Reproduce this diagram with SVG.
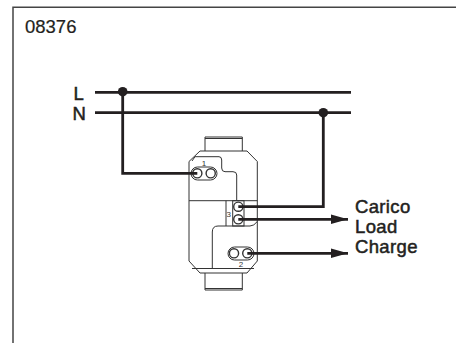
<svg xmlns="http://www.w3.org/2000/svg" width="456" height="343" viewBox="0 0 456 343">
<style>
text{font-family:"Liberation Sans",Arial,sans-serif;fill:#231f20}
.lb{font-size:18.500px;stroke:#231f20;stroke-width:.5;letter-spacing:.35px}
.w{fill:none;stroke:#231f20;stroke-width:2.800}
.d{fill:none;stroke:#333;stroke-width:1}
.t{fill:#fff;stroke:#333;stroke-width:1.400}
.n{font-size:8px;fill:#333}
</style>
<defs><marker id="a" markerUnits="userSpaceOnUse" markerWidth="18" markerHeight="10" refX="17" refY="5" orient="auto"><path d="M0 .3 L17 5 L0 9.700 Z" fill="#231f20"/></marker></defs>
<rect width="456" height="343" fill="#fff"/>
<path d="M13 343V7.300H456" fill="none" stroke="#444" stroke-width="1.500"/>
<text x="25" y="33" font-size="18.500" stroke="#231f20" stroke-width=".2">08376</text>
<g id="device">
<path class="d" d="M205 151V137H242.300V151M205 138.500H242.300"/>
<path class="d" d="M205 273V290H242.300V273M205 288.500H242.300"/>
<path class="d" d="M200 151H247L257.300 161.500V261L247 273H200L189 261V161.500Z"/>
<path class="d" d="M192 268.500H254"/>
<path class="d" d="M189 200.700H257.300"/>
<path class="d" d="M192 161L195 156.700H219Q221.700 156.700 221.700 160V168Q221.700 171.700 225 171.700H233Q236.700 171.700 236.700 175V200.700"/>
<path class="d" d="M226 200.700V226H250Q254 226 257.300 221.500"/>
<path class="d" d="M226 226H218Q212.300 226 212.300 232V268.500"/>
<rect class="d" x="232.700" y="200.700" width="11.300" height="25.300"/>
<rect class="d" x="191" y="167" width="26" height="13" rx="6.500"/>
<circle class="t" cx="197.300" cy="173.300" r="4.600"/><circle class="t" cx="210.700" cy="173.300" r="4.600"/>
<circle class="t" cx="238.300" cy="206.700" r="4.600"/><circle class="t" cx="238.300" cy="219.300" r="4.600"/>
<rect class="d" x="228" y="247" width="26" height="13" rx="6.500"/>
<circle class="t" cx="234" cy="253.300" r="4.600"/><circle class="t" cx="247.300" cy="253.300" r="4.600"/>
<text class="n" x="204" y="165.500" text-anchor="middle">1</text>
<text class="n" x="228.700" y="217" text-anchor="middle">3</text>
<text class="n" x="241" y="267" text-anchor="middle">2</text>
</g>
<g id="connectors">
<path class="w" d="M95 92.300H351M95 112.700H351"/>
<path class="w" d="M122.700 92V173.300H197.300"/>
<path class="w" d="M323.300 112.700V206.700H238.300"/>
<path class="w" d="M238.300 219.300H348" marker-end="url(#a)"/>
<path class="w" d="M247.300 253.300H348" marker-end="url(#a)"/>
<circle cx="122.700" cy="91.700" r="4.800" fill="#231f20"/>
<circle cx="323.300" cy="112.700" r="4.800" fill="#231f20"/>
</g>
<g id="labels">
<text class="lb" x="73.500" y="100">L</text>
<text class="lb" x="72.500" y="120">N</text>
<text class="lb" x="355" y="213">Carico</text>
<text class="lb" x="355" y="233">Load</text>
<text class="lb" x="355" y="253">Charge</text>
</g>
</svg>
